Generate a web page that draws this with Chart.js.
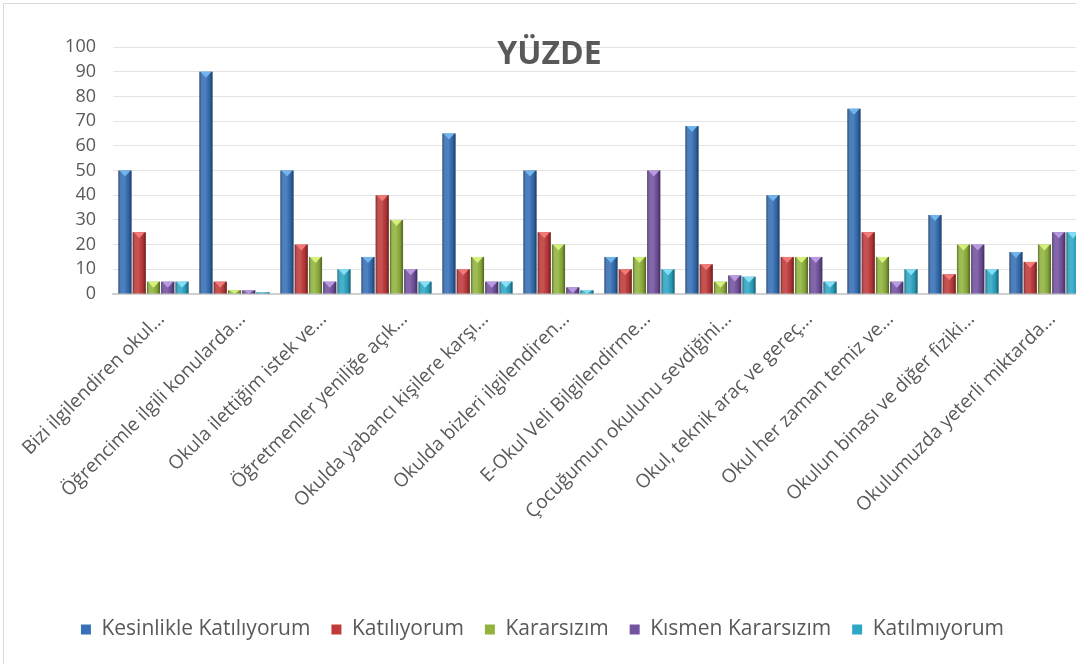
<!DOCTYPE html>
<html>
<head>
<meta charset="utf-8">
<script src="https://cdn.jsdelivr.net/npm/chart.js@4/dist/chart.umd.min.js"></script>
<style>
  html, body { margin: 0; padding: 0; background: #fff; overflow: hidden; }
  #frame { position: absolute; left: 3px; top: 3px; width: 1100px; height: 700px; border: 1px solid #d9d9d9; }
  #wrap { position: absolute; left: 0; top: 0; width: 1085px; height: 664px; }
</style>
</head>
<body>
<div id="frame"></div>
<div id="wrap"><canvas id="chart"></canvas></div>
<script>
var categories = [
  'Bizi ilgilendiren okul...',
  'Öğrencimle ilgili konularda...',
  'Okula ilettiğim istek ve...',
  'Öğretmenler yeniliğe açık...',
  'Okulda yabancı kişilere karşı...',
  'Okulda bizleri ilgilendiren...',
  'E-Okul Veli Bilgilendirme...',
  'Çocuğumun okulunu sevdiğini...',
  'Okul, teknik araç ve gereç...',
  'Okul her zaman temiz ve...',
  'Okulun binası ve diğer fiziki...',
  'Okulumuzda yeterli miktarda...'
];
var seriesNames = ['Kesinlikle Katılıyorum', 'Katılıyorum', 'Kararsızım', 'Kısmen Kararsızım', 'Katılmıyorum'];
var kesinlikle = [50, 90, 50, 15, 65, 50, 15, 68, 40, 75, 32, 17];
var katiliyorum = [25, 5, 20, 40, 10, 25, 10, 12, 15, 25, 8, 13];
var kararsizim = [5, 1.5, 15, 30, 15, 20, 15, 5, 15, 15, 20, 20];
var kismen = [5, 1.5, 5, 10, 5, 2.7, 50, 7.5, 15, 5, 20, 25];
var katilmiyorum = [5, 0.7, 10, 5, 5, 1.5, 10, 7, 5, 10, 10, 25];
var yTicks = [0, 10, 20, 30, 40, 50, 60, 70, 80, 90, 100];

var baseColors = ['#3670b6', '#c03a3a', '#91b43e', '#7453a0', '#2da7c5'];
var capColors = ['#72b4ec', '#f27a78', '#d6f07c', '#b99ae2', '#84def4'];

var FONT = '"Open Sans", sans-serif';

// shading and the little triangle on top of every bar
var bevelPlugin = {
  id: 'bevel',
  afterDatasetsDraw: function(chart) {
    var ctx = chart.ctx;
    chart.data.datasets.forEach(function(ds, di) {
      var meta = chart.getDatasetMeta(di);
      meta.data.forEach(function(bar) {
        var left = bar.x - bar.width / 2, right = bar.x + bar.width / 2;
        var top = bar.y, h = bar.base - bar.y;
        if (h <= 0) return;
        ctx.save();
        var g = ctx.createLinearGradient(left, 0, right, 0);
        g.addColorStop(0, 'rgba(0,0,0,0.40)');
        g.addColorStop(0.25, 'rgba(255,255,255,0.10)');
        g.addColorStop(0.45, 'rgba(255,255,255,0.12)');
        g.addColorStop(0.75, 'rgba(0,0,0,0.08)');
        g.addColorStop(1, 'rgba(0,0,0,0.45)');
        ctx.fillStyle = g;
        ctx.fillRect(left, top, right - left, h);
        if (h > 2) {
          var th = Math.min(6, h);
          ctx.beginPath();
          ctx.moveTo(left + 1, top);
          ctx.lineTo(right - 1, top);
          ctx.lineTo(bar.x, top + th);
          ctx.closePath();
          ctx.fillStyle = capColors[di];
          ctx.fill();
        }
        ctx.restore();
      });
    });
  }
};

var titlePlugin = {
  id: 'overlayTitle',
  afterDraw: function(chart) {
    var ctx = chart.ctx;
    ctx.save();
    ctx.font = 'bold 32px ' + FONT;
    ctx.fillStyle = '#595959';
    ctx.textAlign = 'center';
    ctx.textBaseline = 'middle';
    ctx.fillText('YÜZDE', chart.width / 2 + 7, 55);
    ctx.restore();
  }
};

var allSeries = [kesinlikle, katiliyorum, kararsizim, kismen, katilmiyorum];
var datasets = allSeries.map(function(vals, i) {
  return {
    label: seriesNames[i],
    data: vals,
    backgroundColor: baseColors[i],
    borderWidth: 0,
    categoryPercentage: 0.88,
    barPercentage: 0.92
  };
});

new Chart(document.getElementById('chart'), {
  type: 'bar',
  data: { labels: categories, datasets: datasets },
  plugins: [bevelPlugin, titlePlugin],
  options: {
    responsive: true,
    maintainAspectRatio: false,
    animation: false,
    layout: { padding: { top: 47, left: 0, right: 0, bottom: 14 } },
    plugins: {
      title: { display: false },
      tooltip: { enabled: false },
      legend: {
        position: 'bottom',
        labels: {
          boxWidth: 10,
          boxHeight: 10,
          padding: 21,
          color: '#595959',
          font: { family: FONT, size: 21 }
        }
      }
    },
    scales: {
      x: {
        grid: { display: false },
        border: { display: true, color: '#d0d0d0', width: 2 },
        ticks: {
          autoSkip: false,
          minRotation: 45,
          maxRotation: 45,
          labelOffset: 8,
          padding: 6,
          color: '#595959',
          font: { family: FONT, size: 19 }
        },
        afterFit: function(scale) { scale.height = 304; }
      },
      y: {
        min: 0,
        max: 100,
        afterBuildTicks: function(scale) {
          scale.ticks = yTicks.map(function(v) { return { value: v }; });
        },
        grid: { color: '#e4e4e4', lineWidth: 1, drawTicks: false },
        border: { display: false },
        ticks: {
          autoSkip: false,
          padding: 17,
          color: '#595959',
          font: { family: FONT, size: 18 }
        },
        afterFit: function(scale) { scale.width = 113; }
      }
    }
  }
});
</script>
</body>
</html>
